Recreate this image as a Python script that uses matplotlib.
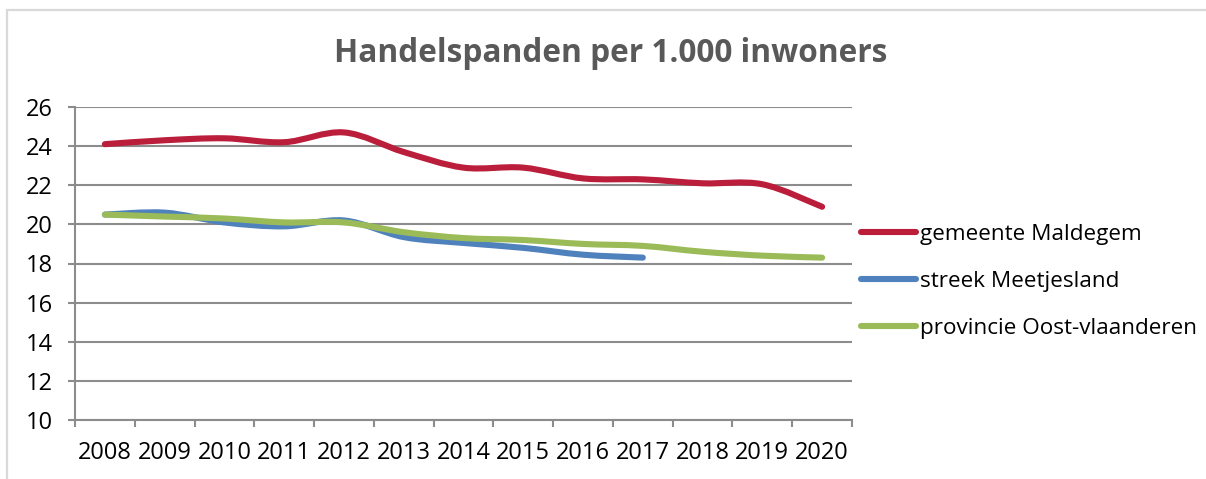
import numpy as np
import matplotlib.pyplot as plt
from matplotlib.path import Path
from matplotlib.patches import PathPatch, Rectangle
from matplotlib.lines import Line2D

years = ['2008', '2009', '2010', '2011', '2012', '2013', '2014',
         '2015', '2016', '2017', '2018', '2019', '2020']

maldegem = [24.1, 24.3, 24.4, 24.2, 24.7, 23.7, 22.9, 22.9, 22.35, 22.3, 22.1, 22.05, 20.9]
meetjesland = [20.5, 20.6, 20.1, 19.9, 20.2, 19.35, 19.05, 18.8, 18.45, 18.3]
oostvl = [20.5, 20.4, 20.3, 20.1, 20.1, 19.6, 19.3, 19.2, 19.0, 18.9, 18.6, 18.4, 18.3]

labels = ['gemeente Maldegem', 'streek Meetjesland', 'provincie Oost-vlaanderen']
colors = ['#BA1E3B', '#4F81BD', '#9BBB59']
yticks = [10, 12, 14, 16, 18, 20, 22, 24, 26]

FONT = 'Open Sans'
W, H = 1206, 479


def smooth_path(values):
    # Excel-like smoothed line: cubic Bezier through each point
    x = np.arange(len(values), dtype=float)
    y = np.asarray(values, dtype=float)
    pts = np.column_stack([x, y])
    ext = np.vstack([pts[0], pts, pts[-1]])
    verts = [pts[0]]
    codes = [Path.MOVETO]
    for i in range(len(pts) - 1):
        p0, p1, p2, p3 = ext[i], ext[i + 1], ext[i + 2], ext[i + 3]
        c1 = p1 + (p2 - p0) / 6.0
        c2 = p2 - (p3 - p1) / 6.0
        verts += [c1, c2, p2]
        codes += [Path.CURVE4] * 3
    return Path(verts, codes)


fig = plt.figure(figsize=(W / 100, H / 100), dpi=100)
fig.patch.set_facecolor('white')

# light outer frame
fig.patches.append(Rectangle((7 / W, -0.1), 1.2, 1 - 10 / H + 0.1,
                             transform=fig.transFigure, fill=False,
                             edgecolor='#d9d9d9', linewidth=1.6))

ax = fig.add_axes([75 / W, 1 - 420 / H, (852 - 75) / W, (420 - 107) / H])

for vals, col in zip([maldegem, meetjesland, oostvl], colors):
    patch = PathPatch(smooth_path(vals), fill=False, edgecolor=col,
                      linewidth=4.4, capstyle='round', joinstyle='round', zorder=3)
    ax.add_patch(patch)

ax.set_xlim(-0.5, len(years) - 0.5)
ax.set_ylim(10, 26)

ax.set_yticks(yticks)
ax.yaxis.grid(True, color='#8c8c8c', linewidth=1.5)
ax.set_axisbelow(True)

ax.set_xticks(np.arange(-0.5, len(years), 1.0))
ax.set_xticklabels([])
ax.set_xticks(np.arange(len(years)), minor=True)
ax.set_xticklabels(years, minor=True)

ax.tick_params(axis='x', which='major', direction='out', length=5,
               width=1.5, color='#8c8c8c')
ax.tick_params(axis='x', which='minor', length=0, pad=15, labelsize=17)
ax.tick_params(axis='y', direction='out', length=5, width=1.5,
               color='#8c8c8c', pad=11, labelsize=17)
for lab in ax.get_xticklabels(minor=True) + ax.get_yticklabels():
    lab.set_fontfamily(FONT)
    lab.set_color('#000000')

for side in ['top', 'right']:
    ax.spines[side].set_visible(False)
for side in ['left', 'bottom']:
    ax.spines[side].set_color('#8c8c8c')
    ax.spines[side].set_linewidth(1.5)

fig.text(611 / W, 1 - 54 / H, 'Handelspanden per 1.000 inwoners',
         ha='center', va='center', fontsize=22.8, fontweight='bold',
         color='#595959', family=FONT)

handles = [Line2D([0], [0], color=c, linewidth=4.4, solid_capstyle='round')
           for c in colors]
fig.legend(handles, labels, loc='upper left',
           bbox_to_anchor=(861 / W, 1 - 224 / H), frameon=False,
           prop={'family': FONT, 'size': 16.2}, handlelength=2.45,
           handletextpad=0.17, labelspacing=1.16, borderaxespad=0, borderpad=0)

fig.savefig('out.png', dpi=100, facecolor='white')
